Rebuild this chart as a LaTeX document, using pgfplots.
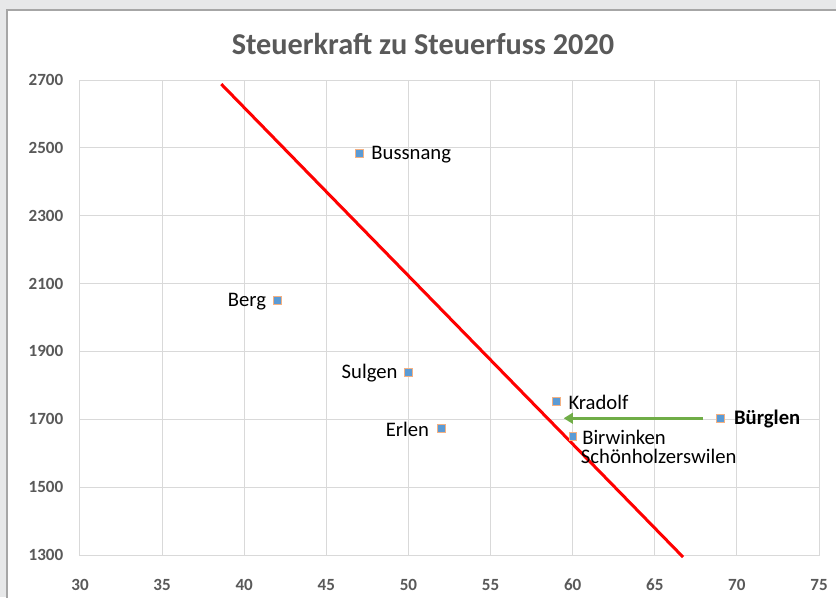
\documentclass[border=0pt]{standalone}
\usepackage{pgfplots}
\pgfplotsset{compat=1.18}
\usepackage{fontspec}
\setmainfont{Carlito}
\usetikzlibrary{arrows.meta}
\definecolor{bggray}{HTML}{E7E8E9}
\definecolor{bordergray}{HTML}{A6A6A6}
\definecolor{gridgray}{HTML}{D9D9D9}
\definecolor{txtgray}{HTML}{595959}
\definecolor{ptblue}{HTML}{5B9BD5}
\definecolor{ptedge}{HTML}{F4B183}
\definecolor{argreen}{HTML}{70AD47}
\tikzset{lbl/.style={font=\fontsize{15.5}{18}\selectfont, inner sep=0pt}}
\begin{document}
\begin{tikzpicture}
\useasboundingbox (-60pt,-31.5pt) rectangle (567pt,416.25pt);
\fill[bggray] (-60pt,-31.5pt) rectangle (567pt,416.25pt);
\fill[white] (-54.75pt,-31.5pt) rectangle (567pt,408.75pt);
\draw[bordergray, line width=1.5pt] (-54.75pt,-32pt) -- (-54.75pt,408.75pt) -- (568pt,408.75pt);
\node[font=\bfseries\fontsize{22.7}{27}\selectfont, text=txtgray] at (257.25pt,383pt) {Steuerkraft zu Steuerfuss 2020};
\begin{axis}[
  at={(0,0)}, anchor=south west,
  scale only axis, width=554.25pt, height=356.25pt,
  xmin=30, xmax=75, ymin=1300, ymax=2700,
  xtick={30,35,...,75}, ytick={1300,1500,...,2700},
  grid=major, major grid style={gridgray, line width=0.75pt},
  axis line style={gridgray, line width=0.75pt},
  major tick length=0pt,
  /pgf/number format/assume math mode=true,
  /pgf/number format/1000 sep={},
  tick label style={font=\bfseries\fontsize{12.8}{15}\selectfont, text=txtgray},
  xticklabel style={yshift=-14.5pt},
  yticklabel style={xshift=-9pt},
  clip=false,
]
\addplot[red, line width=2.25pt] coordinates {(38.6,2688) (66.72,1294)};
\addplot[argreen, line width=2.25pt, -{Triangle[length=7pt, width=8pt]}] coordinates {(67.95,1703) (59.45,1703)};
\addplot[only marks, mark=square*, mark size=2.9pt, mark options={fill=ptblue, draw=ptedge, line width=0.3pt}]
 coordinates {(47,2485) (42,2052) (50,1839) (52,1674) (59,1754) (60,1651) (69,1704)};
\node[lbl, anchor=west, xshift=9pt, yshift=-1pt] at (axis cs:47,2485) {Bussnang};
\node[lbl, anchor=east, xshift=-8pt, yshift=-1pt] at (axis cs:42,2052) {Berg};
\node[lbl, anchor=east, xshift=-8pt, yshift=-1pt] at (axis cs:50,1839) {Sulgen};
\node[lbl, anchor=east, xshift=-9pt, yshift=-1pt] at (axis cs:52,1674) {Erlen};
\node[lbl, anchor=west, xshift=9pt, yshift=-1pt] at (axis cs:59,1754) {Kradolf};
\node[lbl, anchor=west, xshift=10pt, yshift=-1pt] at (axis cs:69,1704) {\bfseries Bürglen};
\node[lbl, anchor=west, xshift=7pt, yshift=-1pt] at (axis cs:60,1651) {Birwinken};
\node[lbl, anchor=west, xshift=6pt, yshift=-15pt] at (axis cs:60,1651) {Schönholzerswilen};
\end{axis}
\end{tikzpicture}
\end{document}
